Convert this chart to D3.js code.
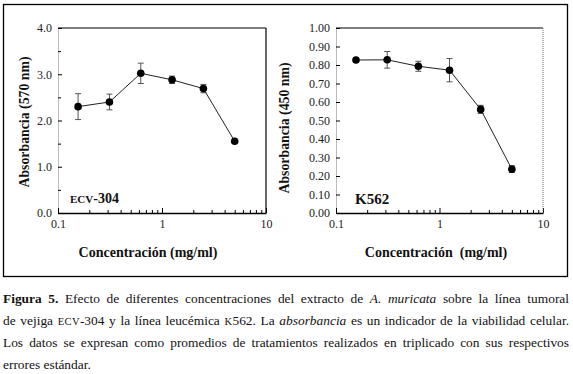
<!DOCTYPE html>
<html>
<head>
<meta charset="utf-8">
<script src="https://cdn.jsdelivr.net/npm/d3@7"></script>
<style>
  body { margin: 0; background: #fff; }
  #wrap { position: relative; width: 573px; height: 374px; overflow: hidden; }
  svg { position: absolute; left: 0; top: 0; }
  svg text { font-family: "Liberation Serif", "Times New Roman", serif; }
  #caption {
    position: absolute; left: 3px; top: 288px; width: 566px;
    font-family: "Liberation Serif", "Times New Roman", serif;
    font-size: 13.4px; line-height: 21.5px; color: #111;
  }
  #caption .ln { text-align: justify; text-align-last: justify; white-space: nowrap; }
  #caption .last { text-align: left; text-align-last: left; }
  .sc { font-size: 10.5px; letter-spacing: 0.4px; }
</style>
</head>
<body>
<div id="wrap">
  <div id="chart"></div>
  <div id="caption">
    <div class="ln"><b>Figura 5.</b> Efecto de diferentes concentraciones del extracto de <i>A. muricata</i> sobre la línea tumoral</div>
    <div class="ln">de vejiga <span class="sc">ECV</span>-304 y la línea leucémica <span class="sc">K</span>562. La <i>absorbancia</i> es un indicador de la viabilidad celular.</div>
    <div class="ln">Los datos se expresan como promedios de tratamientos realizados en triplicado con sus respectivos</div>
    <div class="ln last">errores estándar.</div>
  </div>
</div>
<script>
// concentrations (mg/ml), shared by both panels
const concentrations = [0.156, 0.3125, 0.625, 1.25, 2.5, 5]

// ECV-304, absorbance at 570 nm
const ecvMeans = [2.30, 2.40, 3.02, 2.88, 2.69, 1.55]
const ecvErrors = [0.28, 0.17, 0.22, 0.08, 0.09, 0.02]

// K562, absorbance at 450 nm
const k562Means = [0.827, 0.828, 0.793, 0.772, 0.560, 0.237]
const k562Errors = [0.008, 0.045, 0.027, 0.063, 0.022, 0.018]

const xTickLabels = [0.1, 1, 10]
const xMinorTicks = [0.2, 0.3, 0.4, 0.5, 0.6, 0.7, 0.8, 0.9, 2, 3, 4, 5, 6, 7, 8, 9]
const ecvTicks = [0, 1, 2, 3, 4]
const ecvMinorTicks = [0.5, 1.5, 2.5, 3.5]
const k562Ticks = [0, 0.1, 0.2, 0.3, 0.4, 0.5, 0.6, 0.7, 0.8, 0.9, 1.0]

const width = 573
const height = 280

const svg = d3.select("#chart")
  .append("svg")
  .attr("width", width)
  .attr("height", height)

// outer frame around both graphs
svg.append("rect")
  .attr("x", 3.5)
  .attr("y", 4.5)
  .attr("width", 564)
  .attr("height", 272)
  .attr("fill", "none")
  .attr("stroke", "#000")
  .attr("stroke-width", 1.3)

function drawPanel(p) {
  const x = d3.scaleLog().domain([0.1, 10]).range([p.left, p.right])
  const y = d3.scaleLinear().domain([0, p.yMax]).range([p.bottom, p.top])
  const g = svg.append("g")

  // y axis, ticks pointing inward
  const yAxis = g.append("g")
    .attr("transform", `translate(${p.left},0)`)
    .call(d3.axisLeft(y).tickValues(p.yTicks).tickFormat(d3.format(p.yFormat))
      .tickSizeInner(-4).tickSizeOuter(0).tickPadding(6))
  yAxis.select(".domain").attr("stroke", "#777").attr("stroke-dasharray", "1,1")
  yAxis.selectAll("text").attr("font-size", 12).attr("fill", "#222")
  if (p.yMinor) {
    g.append("g")
      .attr("transform", `translate(${p.left},0)`)
      .call(d3.axisLeft(y).tickValues(p.yMinor).tickFormat("").tickSizeInner(-3).tickSizeOuter(0))
      .select(".domain").remove()
  }

  // x axis (log), ticks pointing inward
  const xAxis = g.append("g")
    .attr("transform", `translate(0,${p.bottom})`)
    .call(d3.axisBottom(x).tickValues(xTickLabels).tickFormat(d3.format("~g"))
      .tickSizeInner(-5).tickSizeOuter(0).tickPadding(6))
  xAxis.select(".domain").attr("stroke-width", 1.3)
  xAxis.selectAll("text").attr("font-size", 12).attr("fill", "#222")
  g.append("g")
    .attr("transform", `translate(0,${p.bottom})`)
    .call(d3.axisBottom(x).tickValues(xMinorTicks).tickFormat("").tickSizeInner(-3).tickSizeOuter(0))
    .select(".domain").remove()

  // top and right side of the plot frame
  g.append("line")
    .attr("x1", p.left).attr("x2", p.right)
    .attr("y1", p.top).attr("y2", p.top)
    .attr("stroke", "#000").attr("stroke-width", 1.2)
  g.append("line")
    .attr("x1", p.right).attr("x2", p.right)
    .attr("y1", p.top).attr("y2", p.bottom)
    .attr("stroke", p.rightColor).attr("stroke-width", p.rightDotted ? 1 : 1.2)
    .attr("stroke-dasharray", p.rightDotted ? "1,1" : null)

  // error bars
  const cap = 3
  const bars = g.append("g").attr("stroke", "#555").attr("stroke-width", 1)
  concentrations.forEach((c, i) => {
    const cx = x(c)
    const lo = y(p.means[i] - p.errors[i])
    const hi = y(p.means[i] + p.errors[i])
    bars.append("line").attr("x1", cx).attr("x2", cx).attr("y1", lo).attr("y2", hi)
    bars.append("line").attr("x1", cx - cap).attr("x2", cx + cap).attr("y1", lo).attr("y2", lo)
    bars.append("line").attr("x1", cx - cap).attr("x2", cx + cap).attr("y1", hi).attr("y2", hi)
  })

  // mean line and dots
  g.append("path")
    .datum(concentrations)
    .attr("fill", "none")
    .attr("stroke", "#222")
    .attr("stroke-width", 1)
    .attr("d", d3.line()
      .x(d => x(d))
      .y((d, i) => y(p.means[i])))

  g.selectAll("circle")
    .data(concentrations)
    .enter()
    .append("circle")
    .attr("cx", d => x(d))
    .attr("cy", (d, i) => y(p.means[i]))
    .attr("r", 3.8)
    .attr("fill", "#000")

  // axis titles
  g.append("text")
    .attr("transform", `translate(${p.yTitleX},${p.yTitleY}) rotate(-90)`)
    .attr("text-anchor", "middle")
    .attr("font-size", 13.8)
    .attr("font-weight", "bold")
    .attr("fill", "#111")
    .text(p.yTitle)
  g.append("text")
    .attr("x", p.xTitleX)
    .attr("y", 257)
    .attr("text-anchor", "middle")
    .attr("font-size", 14)
    .attr("font-weight", "bold")
    .attr("fill", "#111")
    .style("white-space", "pre")
    .text(p.xTitle)

  return g
}

const left = drawPanel({
  left: 58, right: 266, top: 28, bottom: 213,
  yMax: 4, yTicks: ecvTicks, yMinor: ecvMinorTicks, yFormat: ".1f",
  means: ecvMeans, errors: ecvErrors,
  rightColor: "#000", rightDotted: false,
  yTitle: "Absorbancia (570 nm)", yTitleX: 29, yTitleY: 122,
  xTitle: "Concentración (mg/ml)", xTitleX: 148
})

const right = drawPanel({
  left: 336, right: 543, top: 28, bottom: 213,
  yMax: 1, yTicks: k562Ticks, yMinor: null, yFormat: ".2f",
  means: k562Means, errors: k562Errors,
  rightColor: "#777", rightDotted: true,
  yTitle: "Absorbancia (450 nm)", yTitleX: 289, yTitleY: 128,
  xTitle: "Concentración  (mg/ml)", xTitleX: 436
})

// panel names
const ecvLabel = left.append("text")
  .attr("x", 70)
  .attr("y", 203)
  .attr("font-weight", "bold")
  .attr("fill", "#111")
ecvLabel.append("tspan").attr("font-size", 11).text("ECV")
ecvLabel.append("tspan").attr("font-size", 14).text("-304")

right.append("text")
  .attr("x", 355)
  .attr("y", 204)
  .attr("font-size", 15)
  .attr("font-weight", "bold")
  .attr("fill", "#111")
  .text("K562")
</script>
</body>
</html>
